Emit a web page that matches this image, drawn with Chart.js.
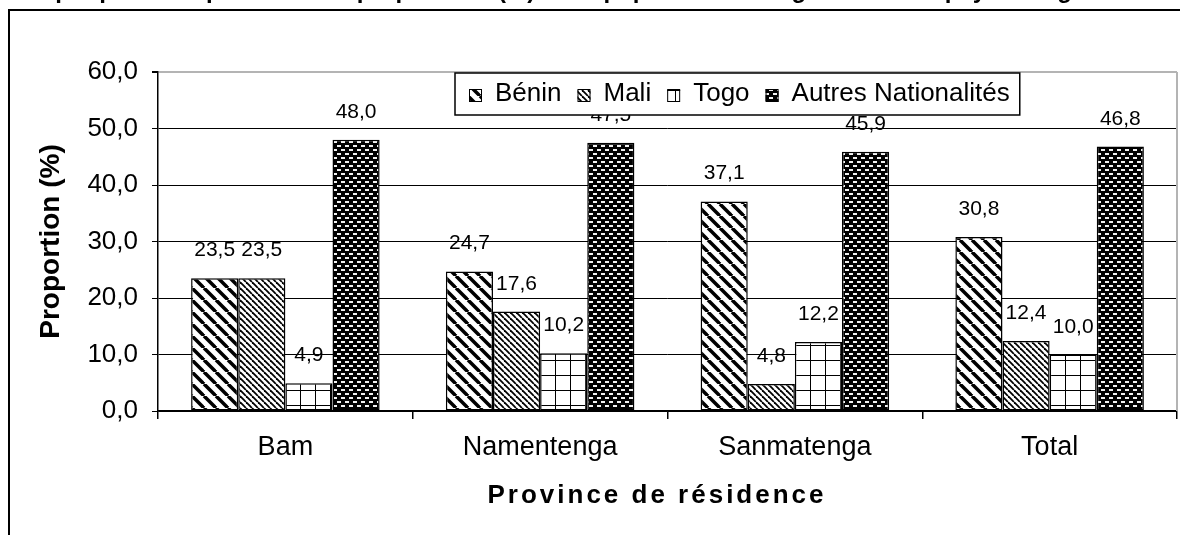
<!DOCTYPE html>
<html>
<head>
<meta charset="utf-8">
<script src="https://cdn.jsdelivr.net/npm/chart.js@4.4.1/dist/chart.umd.min.js"></script>
<style>
  html, body { margin: 0; padding: 0; background: #fff; overflow: hidden; }
  canvas { display: block; }
</style>
</head>
<body>
<canvas id="chart" width="1180" height="535"></canvas>
<script>
// --- Data ---
const provinces = ['Bam', 'Namentenga', 'Sanmatenga', 'Total'];
const nationalities = ['Bénin', 'Mali', 'Togo', 'Autres Nationalités'];
const benin = [23.5, 24.7, 37.1, 30.8];
const mali = [23.5, 17.6, 4.8, 12.4];
const togo = [4.9, 10.2, 12.2, 10.0];
const autres = [48.0, 47.5, 45.9, 46.8];
const yTicks = [0, 10, 20, 30, 40, 50, 60];

const titleText = 'Graphique 2 : Répartition des proportions (%) de la population étrangère selon le pays d\'origine';
const yTitle = 'Proportion (%)';
const xTitle = 'Province de résidence';

const FONT = '"Liberation Sans", Arial, sans-serif';
const canvas = document.getElementById('chart');
const ctx = canvas.getContext('2d');

const fmt = (v) => v.toFixed(1).replace('.', ',');

// --- Patterns ---
function makePattern(w, h, draw) {
    const c = document.createElement('canvas');
    c.width = w;
    c.height = h;
    draw(c.getContext('2d'), w, h);
    return ctx.createPattern(c, 'repeat');
}

function diagonal(size, width) {
    return makePattern(size, size, (t, w, h) => {
        t.fillStyle = '#fff';
        t.fillRect(0, 0, w, h);
        t.strokeStyle = '#000';
        t.lineWidth = width;
        for (const o of [-w, 0, w]) {
            t.beginPath();
            t.moveTo(o, 0);
            t.lineTo(o + w, h);
            t.stroke();
        }
    });
}

const beninPattern = diagonal(12, 3.5);
const maliPattern = diagonal(6, 1.8);
const togoPattern = makePattern(15, 15, (t, w, h) => {
    t.fillStyle = '#fff';
    t.fillRect(0, 0, w, h);
    t.fillStyle = '#000';
    t.fillRect(0, 0, 1, h);
    t.fillRect(0, 0, w, 1);
});
const autresPattern = makePattern(8, 8, (t, w, h) => {
    t.fillStyle = '#000';
    t.fillRect(0, 0, w, h);
    t.fillStyle = '#f2f2f2';
    t.fillRect(1, 1, 4, 2);
    t.fillRect(5, 5, 3, 2);
    t.fillRect(0, 5, 1, 2);
});
const patterns = [beninPattern, maliPattern, togoPattern, autresPattern];

// --- Plugins ---
const framePlugin = {
    id: 'frame',
    beforeDraw(chart) {
        const c = chart.ctx;
        c.save();
        c.fillStyle = '#fff';
        c.fillRect(0, 0, chart.width, chart.height);
        // title (cut off by the top of the picture)
        c.fillStyle = '#000';
        c.font = 'bold 24px ' + FONT;
        c.textBaseline = 'alphabetic';
        c.textAlign = 'left';
        c.fillText(titleText, 14, -2);
        // outer frame
        c.strokeStyle = '#000';
        c.lineWidth = 2;
        c.strokeRect(9, 10, 1400, 800);
        c.restore();
    },
    afterDatasetsDraw(chart) {
        const c = chart.ctx;
        const a = chart.chartArea;
        c.save();
        // right border of plot area
        c.strokeStyle = '#b4b4b4';
        c.lineWidth = 2;
        c.beginPath();
        c.moveTo(a.right, a.top);
        c.lineTo(a.right, a.bottom);
        c.stroke();
        // value labels
        c.fillStyle = '#000';
        c.font = '21px ' + FONT;
        c.textAlign = 'center';
        c.textBaseline = 'alphabetic';
        chart.data.datasets.forEach((ds, i) => {
            chart.getDatasetMeta(i).data.forEach((bar, j) => {
                c.fillText(fmt(ds.data[j]), bar.x, bar.y - 22);
            });
        });
        // axis titles
        c.font = 'bold 28px ' + FONT;
        c.textAlign = 'center';
        c.textBaseline = 'middle';
        c.save();
        c.translate(51, (a.top + a.bottom) / 2);
        c.rotate(-Math.PI / 2);
        c.fillText(yTitle, 0, 0);
        c.restore();
        c.font = 'bold 26px ' + FONT;
        c.letterSpacing = '3px';
        c.fillText(xTitle, 657, 496);
        c.restore();
    },
    afterDraw(chart) {
        // legend box drawn on top of the labels
        const c = chart.ctx;
        const left = 455, top = 73, bottom = 115;
        c.save();
        c.font = '26px ' + FONT;
        const items = nationalities.map((n) => c.measureText(n).width);
        const pad = 14, sw = 13, gapIn = 13, gapOut = 16;
        const right = left + pad + items.reduce((s, w) => s + sw + gapIn + w + gapOut, 0) - gapOut + 10;
        c.fillStyle = '#fff';
        c.fillRect(left, top, right - left, bottom - top);
        c.strokeStyle = '#000';
        c.lineWidth = 1.5;
        c.strokeRect(left, top, right - left, bottom - top);
        const cy = (top + bottom) / 2;
        let x = left + pad;
        nationalities.forEach((n, i) => {
            c.fillStyle = patterns[i];
            c.fillRect(x, cy - 5, sw, sw);
            c.strokeStyle = '#000';
            c.lineWidth = 1;
            c.strokeRect(x + 0.5, cy - 4.5, sw - 1, sw - 1);
            x += sw + gapIn;
            c.fillStyle = '#000';
            c.textAlign = 'left';
            c.textBaseline = 'middle';
            c.fillText(n, x, cy);
            x += items[i] + gapOut;
        });
        c.restore();
    }
};

// --- Chart ---
new Chart(ctx, {
    type: 'bar',
    data: {
        labels: provinces,
        datasets: [benin, mali, togo, autres].map((d, i) => ({
            label: nationalities[i],
            data: d,
            backgroundColor: patterns[i],
            borderColor: '#000',
            borderWidth: 1.5,
            borderSkipped: false,
            categoryPercentage: 0.74,
            barPercentage: 1.0
        }))
    },
    options: {
        responsive: false,
        animation: false,
        devicePixelRatio: 1,
        layout: { padding: { top: 72, right: 3, left: 0, bottom: 0 } },
        plugins: {
            legend: { display: false },
            tooltip: { enabled: false }
        },
        scales: {
            x: {
                afterFit: (s) => { s.height = 124; },
                grid: { offset: true, drawOnChartArea: false, drawTicks: true, tickLength: 8, color: '#000', lineWidth: 1.5 },
                border: { color: '#000', width: 1.5 },
                ticks: { color: '#000', font: { family: FONT, size: 27 }, padding: 12, maxRotation: 0 }
            },
            y: {
                min: 0,
                max: 60,
                afterFit: (s) => { s.width = 158; },
                afterBuildTicks: (s) => { s.ticks = yTicks.map((v) => ({ value: v })); },
                grid: {
                    color: (c) => (c.tick && c.tick.value === 60 ? '#b4b4b4' : '#000'),
                    lineWidth: (c) => (c.tick && c.tick.value === 60 ? 2 : 1),
                    tickColor: '#000',
                    tickLength: 6
                },
                border: { color: '#000', width: 1.5 },
                ticks: {
                    color: '#000',
                    font: { family: FONT, size: 26 },
                    padding: 14,
                    callback: (v) => fmt(v)
                }
            }
        }
    },
    plugins: [framePlugin]
});
</script>
</body>
</html>
